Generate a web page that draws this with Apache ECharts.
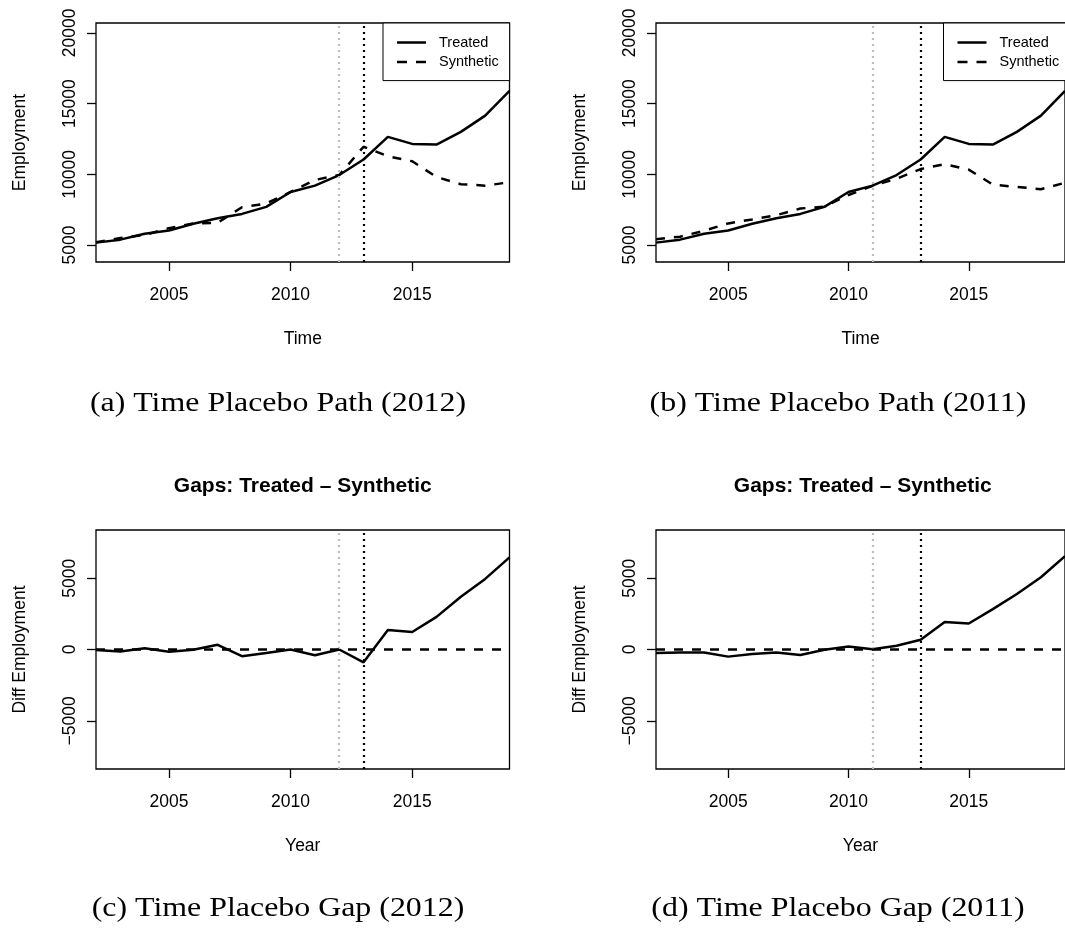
<!DOCTYPE html>
<html><head><meta charset="utf-8">
<script src="https://cdn.jsdelivr.net/npm/echarts@6/dist/echarts.min.js"></script>
<style>html,body{margin:0;padding:0;background:#fff}#c{width:1065px;height:929px}</style>
</head><body><div id="c"></div>
<script>
// ---- data ----
const years = [2002,2003,2004,2005,2006,2007,2008,2009,2010,2011,2012,2013,2014,2015,2016,2017,2018,2019];
const treated   = [5170,5380,5800,6030,6500,6900,7200,7700,8750,9200,9950,11050,12650,12150,12100,13000,14150,15900];
const synth2012 = [5200,5500,5710,6195,6520,6570,7670,7940,8750,9600,9950,11950,11280,10920,9810,9300,9200,9440];
const synth2011 = [5410,5590,6010,6530,6810,7110,7580,7720,8540,9180,9690,10370,10720,10330,9270,9110,8950,9400];
const gap2012   = [-30,-140,90,-165,-20,330,-470,-240,0,-400,0,-900,1370,1230,2290,3700,4950,6460];
const gap2011   = [-240,-210,-210,-500,-310,-210,-380,-20,210,20,260,680,1930,1820,2830,3890,5070,6550];
const xTicks = [2005,2010,2015];
const yTicksPath = [5000,10000,15000,20000];
const yTicksGap = [-5000,0,5000];
const placebo = [2012, 2011];   // placebo years (grey dotted)
const treatYear = 2013;         // actual treatment (black dotted)
const captions = ['(a) Time Placebo Path (2012)','(b) Time Placebo Path (2011)','(c) Time Placebo Gap (2012)','(d) Time Placebo Gap (2011)'];
const gapTitle = 'Gaps: Treated \u2013 Synthetic';

// ---- layout ----
const SANS = '"Liberation Sans", Arial, sans-serif';
const FS = 17.5;
const W = 413.5, H = 239;
const lefts = [96, 656];
const tops = [23, 530];
const pair = (arr) => years.map((y, i) => [y, arr[i]]);
const fmt = (v) => v < 0 ? '\u2212' + String(Math.abs(v)) : String(v);

const grids = [], xAxes = [], yAxes = [], series = [];
const vlineData = (c) => [
  {xAxis: placebo[c], lineStyle: {color: '#bdbdbd', type: [2, 4], width: 2.2}},
  {xAxis: treatYear, lineStyle: {color: '#000', type: [2, 4], width: 2.2}}
];
for (let r = 0; r < 2; r++) {
  for (let c = 0; c < 2; c++) {
    const gi = r * 2 + c;
    grids.push({left: lefts[c], top: tops[r], width: W, height: H, show: true,
      borderColor: '#000', borderWidth: 1.3, backgroundColor: 'transparent', containLabel: false});
    xAxes.push({type: 'value', gridIndex: gi, min: 2002, max: 2019,
      name: r === 0 ? 'Time' : 'Year', nameLocation: 'middle', nameGap: 68,
      nameTextStyle: {fontFamily: SANS, fontSize: FS, color: '#000'},
      axisLine: {show: false, onZero: false},
      axisTick: {show: true, customValues: xTicks, length: 9, inside: false, lineStyle: {color: '#000', width: 1.3}},
      axisLabel: {customValues: xTicks, margin: 24, fontFamily: SANS, fontSize: FS, color: '#000', formatter: fmt},
      splitLine: {show: false}});
    const isPath = r === 0;
    yAxes.push({type: 'value', gridIndex: gi,
      min: isPath ? 3800 : -8380, max: isPath ? 20700 : 8380,
      name: isPath ? 'Employment' : 'Diff Employment', nameLocation: 'middle', nameRotate: 90, nameGap: 67,
      nameTextStyle: {fontFamily: SANS, fontSize: FS, color: '#000'},
      axisLine: {show: false, onZero: false},
      axisTick: {show: true, customValues: isPath ? yTicksPath : yTicksGap, length: 9, lineStyle: {color: '#000', width: 1.3}},
      axisLabel: {customValues: isPath ? yTicksPath : yTicksGap, rotate: 90, margin: 17, fontFamily: SANS, fontSize: FS, color: '#000', formatter: fmt},
      splitLine: {show: false}});
    if (isPath) {
      series.push({name: 'Treated', type: 'line', xAxisIndex: gi, yAxisIndex: gi, data: pair(treated),
        showSymbol: false, symbol: 'none', lineStyle: {color: '#000', width: 2.5}, itemStyle: {color: '#000'},
        animation: false, z: 3,
        markLine: {silent: true, symbol: ['none', 'none'], label: {show: false}, animation: false, data: vlineData(c)}});
      series.push({name: 'Synthetic', type: 'line', xAxisIndex: gi, yAxisIndex: gi, data: pair(c === 0 ? synth2012 : synth2011),
        showSymbol: false, symbol: 'none', lineStyle: {color: '#000', width: 2.5, type: [9, 9]}, itemStyle: {color: '#000'},
        animation: false, z: 3});
    } else {
      series.push({name: 'Gap ' + placebo[c], type: 'line', xAxisIndex: gi, yAxisIndex: gi, data: pair(c === 0 ? gap2012 : gap2011),
        showSymbol: false, symbol: 'none', lineStyle: {color: '#000', width: 2.5}, itemStyle: {color: '#000'},
        animation: false, z: 3,
        markLine: {silent: true, symbol: ['none', 'none'], label: {show: false}, animation: false,
          data: vlineData(c).concat([{yAxis: 0, lineStyle: {color: '#000', type: [9, 9], width: 2.5}}])}});
    }
  }
}

// legend icons: solid line / two dashes (tiny corner specks fix the 29x14 box)
const box = 'M0,0h0.01v0.01h-0.01z M28.99,13.99h0.01v0.01h-0.01z ';
const iconSolid = 'path://' + box + 'M0,5.75h29v2.5h-29z';
const iconDash = 'path://' + box + 'M0,5.75h10v2.5h-10z M19,5.75h10v2.5h-10z';
const legendBase = {orient: 'vertical', top: 23,
  data: [{name: 'Treated', icon: iconSolid}, {name: 'Synthetic', icon: iconDash}],
  itemWidth: 29, itemHeight: 14, itemGap: 4.6, padding: [12, 11, 11, 14],
  borderColor: '#000', borderWidth: 1, backgroundColor: '#fff', borderRadius: 0,
  selectedMode: false,
  itemStyle: {color: '#000', borderWidth: 0},
  textStyle: {fontFamily: SANS, fontSize: 14.5, color: '#000', padding: [0, 0, 0, 8]}};

const graphic = [];
const capX = [278, 838];
const capY = [404, 909];
for (let r = 0; r < 2; r++) for (let c = 0; c < 2; c++) {
  graphic.push({type: 'text', x: capX[c], y: capY[r], scaleX: 1.16, silent: true,
    style: {text: captions[r * 2 + c], fontFamily: '"Liberation Serif", "Times New Roman", serif', fontSize: 27.5,
      fill: '#000', align: 'center', verticalAlign: 'middle'}});
}
for (let c = 0; c < 2; c++) {
  graphic.push({type: 'text', x: lefts[c] + W / 2, y: 486, silent: true,
    style: {text: gapTitle, fontFamily: SANS, fontSize: 21, fontWeight: 'bold', fill: '#000', align: 'center', verticalAlign: 'middle'}});
}

const chart = echarts.init(document.getElementById('c'), null, {renderer: 'canvas'});
chart.setOption({
  backgroundColor: '#fff',
  animation: false,
  grid: grids, xAxis: xAxes, yAxis: yAxes, series: series,
  legend: [Object.assign({}, legendBase, {left: 383}), Object.assign({}, legendBase, {left: 943.5})],
  graphic: graphic
});
</script></body></html>
